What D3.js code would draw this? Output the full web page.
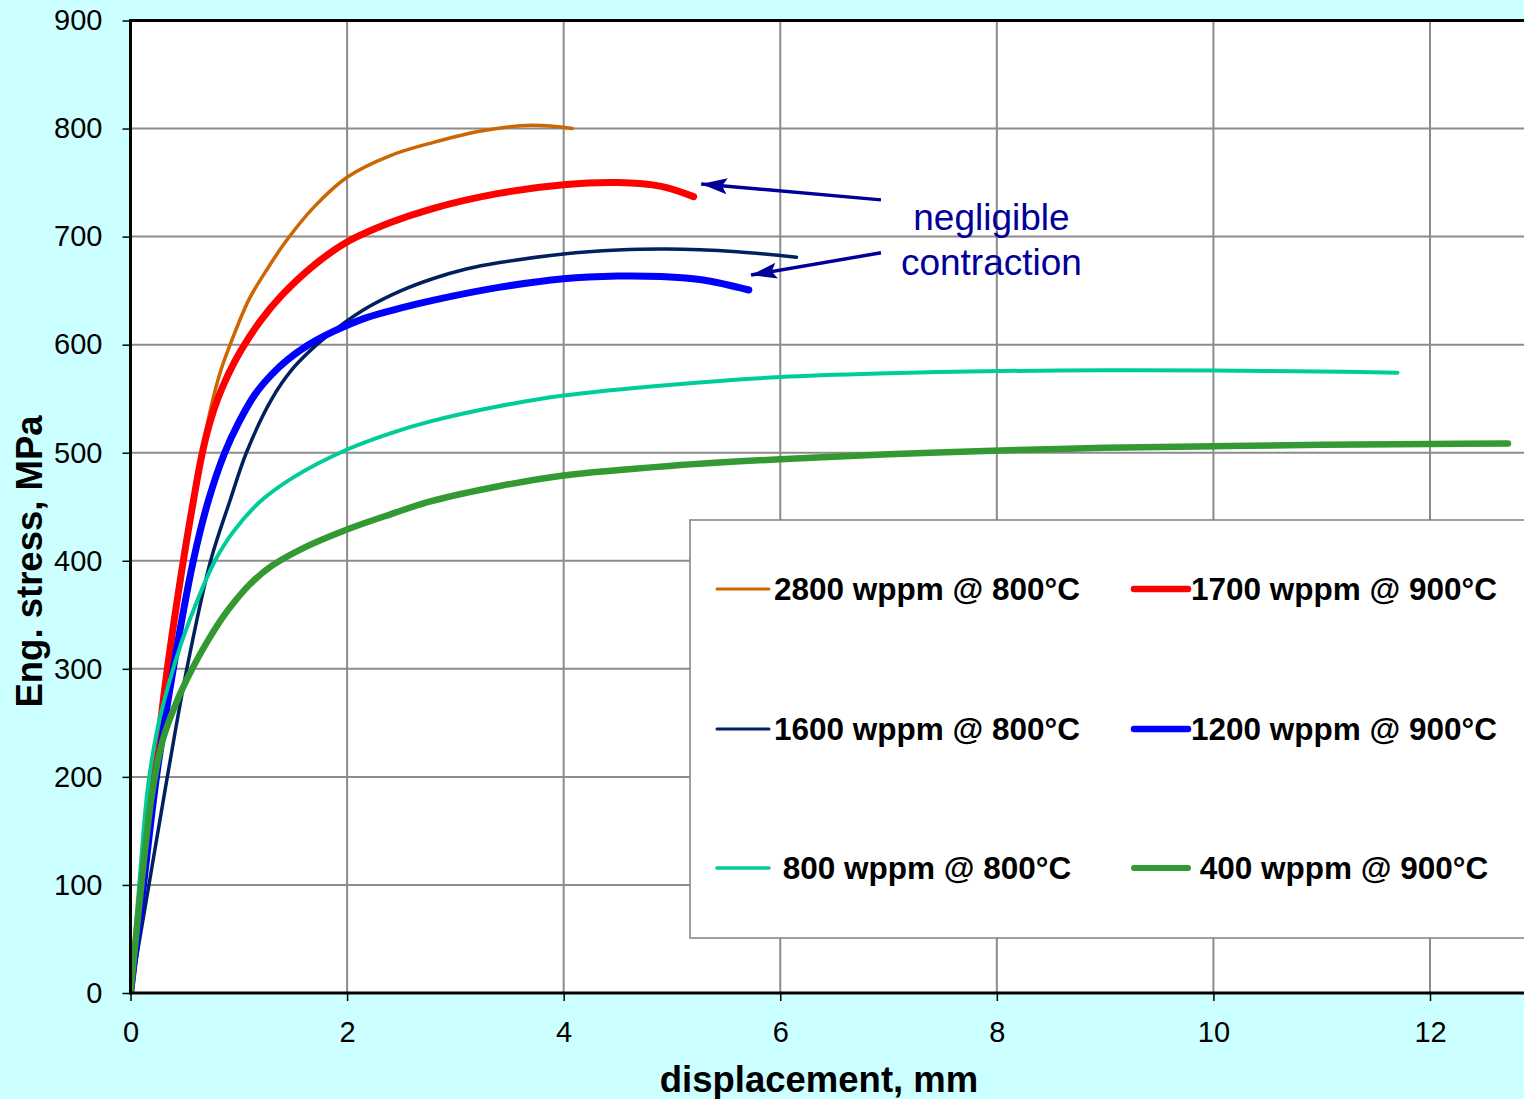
<!DOCTYPE html>
<html>
<head>
<meta charset="utf-8">
<script src="https://cdn.jsdelivr.net/npm/d3@7"></script>
<style>
  html, body { margin: 0; padding: 0; background: #ccffff; }
  svg { display: block; font-family: "Liberation Sans", Arial, sans-serif; }
</style>
</head>
<body>
<svg id="chart" width="1524" height="1099"></svg>
<script>
// series: [displacement mm, stress MPa]
const s2800 = [[0,0],[0.11,100],[0.22,200],[0.34,300],[0.488,400],[0.58,456],[0.657,500],[0.75,545],[0.83,575],[0.92,600],[1.09,641],[1.25,668],[1.43,695],[1.7,728],[2.0,755],[2.4,775],[2.79,787],[3.25,798],[3.7,803],[4.08,800]];
const s1700 = [[0,0],[0.11,100],[0.22,200],[0.34,300],[0.488,400],[0.58,455],[0.657,497],[0.73,527],[0.81,551],[0.9,572],[1.01,593],[1.2,622],[1.4,646],[1.7,674],[2.0,695],[2.4,713],[2.79,726],[3.4,740],[4.0,748],[4.5,750],[4.9,746.5],[5.2,737]];
const s1600 = [[0,0],[0.17,100],[0.34,200],[0.52,300],[0.74,400],[0.92,456],[1.07,500],[1.3,549],[1.5,578],[1.72,600],[1.93,617],[2.2,635],[2.5,650],[2.79,661],[3.1,670],[3.41,676],[4.0,684],[4.5,687.5],[4.94,688.5],[5.6,686],[6.15,681]];
const s1200 = [[0,0],[0.12,100],[0.24,200],[0.395,300],[0.58,400],[0.72,456],[0.87,500],[1.0,528],[1.15,554],[1.3,572],[1.45,586],[1.63,599],[1.87,612],[2.18,625],[2.5,634],[2.79,641],[3.4,653],[4.0,661],[4.5,663.5],[4.9,663],[5.29,659.8],[5.71,650.6]];
const s800  = [[0,0],[0.08,100],[0.16,190],[0.25,245],[0.35,285],[0.48,327],[0.62,364],[0.78,400],[0.95,427],[1.2,455],[1.5,477],[2.0,503],[2.4,518],[2.77,529],[3.4,543],[4.0,553],[5.0,563],[6.0,570],[7.0,573.5],[8.03,575.6],[9.0,576.3],[10,576],[11.2,575],[11.7,574]];
const s400  = [[0,0],[0.1,100],[0.2,185],[0.3,235],[0.42,268],[0.57,300],[0.72,327],[0.82,343],[0.92,357],[1.1,378],[1.3,395],[1.6,412],[2.0,429],[2.4,443],[2.77,455],[3.4,469],[4.0,479],[5.0,488],[6.0,494],[7.0,498.5],[8.03,502],[9.0,504.5],[10,506],[11,507.3],[12,508],[12.72,508.5]];

const labels = ['2800 wppm @ 800°C', '1700 wppm @ 900°C', '1600 wppm @ 800°C', '1200 wppm @ 900°C', '800 wppm @ 800°C', '400 wppm @ 900°C'];
const colors = ['#cc6600', '#ff0000', '#002060', '#0000ff', '#00cc99', '#339933'];
const widths = [3.5, 7, 3.5, 7, 4, 6.5];
const series = [s2800, s1700, s1600, s1200, s800, s400];

const xTicks = [0, 2, 4, 6, 8, 10, 12];
const yTicks = [0, 100, 200, 300, 400, 500, 600, 700, 800, 900];

// annotation: arrow tails / tips and text, in data units
const arrows = [[[6.93, 734], [5.27, 748.7]], [[6.93, 685], [5.73, 664.4]]];
const note = [['negligible', 7.95, 706], ['contraction', 7.95, 664.4]];

const svg = d3.select('#chart');
const pL = 130.5, pR = 1524, pT = 20.5, pB = 993;

const x = d3.scaleLinear().domain([0, 12]).range([pL, 1430]);
const y = d3.scaleLinear().domain([0, 900]).range([pB, pT]);

svg.append('rect').attr('width', 1524).attr('height', 1099).attr('fill', '#ccffff');
svg.append('rect')
  .attr('x', pL).attr('y', pT)
  .attr('width', pR - pL).attr('height', pB - pT)
  .attr('fill', '#fff');

const defs = svg.append('defs');
defs.append('clipPath').attr('id', 'clip')
  .append('rect').attr('x', pL).attr('y', pT).attr('width', pR - pL).attr('height', pB - pT);

// grid
const grid = svg.append('g').attr('stroke', '#8c8c8c').attr('stroke-width', 2);
grid.selectAll('.gx')
  .data(xTicks.filter(d => d > 0))
  .enter().append('line')
  .attr('x1', d => x(d)).attr('x2', d => x(d))
  .attr('y1', pT).attr('y2', pB);
grid.selectAll('.gy')
  .data(yTicks.filter(d => d > 0 && d < 900))
  .enter().append('line')
  .attr('y1', d => y(d)).attr('y2', d => y(d))
  .attr('x1', pL).attr('x2', pR);

// legend box (covers grid)
const lg = svg.append('g');
lg.append('rect')
  .attr('x', 690).attr('y', 520).attr('width', 850).attr('height', 418)
  .attr('fill', '#fff').attr('stroke', '#808080').attr('stroke-width', 1.5);

const rowsY = [589, 729, 868];
labels.forEach((t, i) => {
  const col = i % 2, row = Math.floor(i / 2);
  const lx = col === 0 ? [717, 769] : [1134, 1188];
  const tx = col === 0 ? 927 : 1344;
  lg.append('line')
    .attr('x1', lx[0]).attr('x2', lx[1])
    .attr('y1', rowsY[row]).attr('y2', rowsY[row])
    .attr('stroke', colors[i]).attr('stroke-width', widths[i] - 0.5)
    .attr('stroke-linecap', 'round');
  lg.append('text')
    .attr('x', tx).attr('y', rowsY[row] + 11)
    .attr('text-anchor', 'middle')
    .attr('font-size', 31.5).attr('font-weight', 'bold')
    .attr('fill', '#000')
    .text(t);
});

// curves
const line = d3.line().x(d => x(d[0])).y(d => y(d[1])).curve(d3.curveCatmullRom.alpha(0.5));
svg.append('g').attr('clip-path', 'url(#clip)')
  .selectAll('path')
  .data(series)
  .enter().append('path')
  .attr('d', line)
  .attr('fill', 'none')
  .attr('stroke', (d, i) => colors[i])
  .attr('stroke-width', (d, i) => widths[i])
  .attr('stroke-linecap', 'round')
  .attr('stroke-linejoin', 'round');

// axes
const yAxis = svg.append('g')
  .attr('transform', `translate(${pL},0)`)
  .call(d3.axisLeft(y).tickValues(yTicks).tickSize(8).tickPadding(20));
const xAxis = svg.append('g')
  .attr('transform', `translate(0,${pB})`)
  .call(d3.axisBottom(x).tickValues(xTicks).tickSize(8).tickPadding(20));

[xAxis, yAxis].forEach(a => {
  a.select('.domain').remove();
  a.selectAll('line').attr('stroke', '#000').attr('stroke-width', 1.5);
  a.selectAll('text').attr('font-size', 29).attr('fill', '#000')
    .attr('font-family', '"Liberation Sans", Arial, sans-serif');
});

// frame lines
svg.append('line').attr('x1', pL).attr('x2', pR).attr('y1', pT).attr('y2', pT)
  .attr('stroke', '#000').attr('stroke-width', 3);
svg.append('line').attr('x1', pL).attr('x2', pR).attr('y1', pB).attr('y2', pB)
  .attr('stroke', '#000').attr('stroke-width', 3);
svg.append('line').attr('x1', pL).attr('x2', pL).attr('y1', pT - 1.5).attr('y2', pB + 1.5)
  .attr('stroke', '#000').attr('stroke-width', 3);

// axis titles
svg.append('text')
  .attr('x', 819).attr('y', 1092)
  .attr('text-anchor', 'middle')
  .attr('font-size', 36.5).attr('font-weight', 'bold')
  .text('displacement, mm');
svg.append('text')
  .attr('transform', 'translate(41.5,561.5) rotate(-90)')
  .attr('text-anchor', 'middle')
  .attr('font-size', 36.5).attr('font-weight', 'bold')
  .text('Eng. stress, MPa');

// annotation arrows
defs.append('marker')
  .attr('id', 'head')
  .attr('viewBox', '0 0 26 16')
  .attr('refX', 26).attr('refY', 8)
  .attr('markerWidth', 26).attr('markerHeight', 16)
  .attr('markerUnits', 'userSpaceOnUse')
  .attr('orient', 'auto')
  .append('path').attr('d', 'M0,0 L26,8 L0,16 L5,8 Z').attr('fill', '#000099');

svg.append('g')
  .selectAll('line')
  .data(arrows)
  .enter().append('line')
  .attr('x1', d => x(d[0][0])).attr('y1', d => y(d[0][1]))
  .attr('x2', d => x(d[1][0])).attr('y2', d => y(d[1][1]))
  .attr('stroke', '#000099').attr('stroke-width', 3.5)
  .attr('marker-end', 'url(#head)');

svg.append('g')
  .selectAll('text')
  .data(note)
  .enter().append('text')
  .attr('x', d => x(d[1])).attr('y', d => y(d[2]))
  .attr('text-anchor', 'middle')
  .attr('font-size', 37)
  .attr('fill', '#000099')
  .text(d => d[0]);
</script>
</body>
</html>
